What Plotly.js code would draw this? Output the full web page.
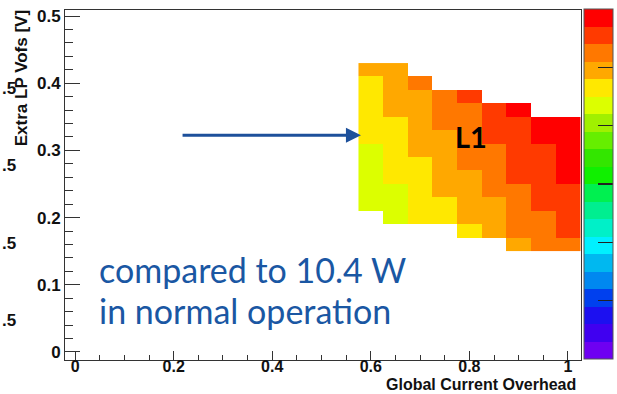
<!DOCTYPE html>
<html>
<head>
<meta charset="utf-8">
<script src="https://cdn.plot.ly/plotly-3.0.1.min.js"></script>
<style>
  html, body { margin: 0; padding: 0; background: #ffffff; }
  #chart { width: 617px; height: 394px; }
</style>
</head>
<body>
<div id="chart"></div>
<script>
// Bin centres of the 2D scan
const overhead = [0.60, 0.65, 0.70, 0.75, 0.80, 0.85, 0.90, 0.95, 1.00];
const vofs = [0.16, 0.18, 0.20, 0.22, 0.24, 0.26, 0.28, 0.30, 0.32, 0.34, 0.36, 0.38, 0.40, 0.42];

// Palette level of each bin (null = empty bin), one row per Vofs value
const row016 = [null, null, null, null, null, null, 16, 17, 17];
const row018 = [null, null, null, null, 15, 16, 17, 17, 18];
const row020 = [null, 14, 15, 15, 16, 16, 17, 17, 18];
const row022 = [14, 14, 15, 15, 16, 16, 17, 18, 18];
const row024 = [14, 14, 15, 16, 16, 17, 17, 18, 18];
const row026 = [14, 15, 15, 16, 16, 17, 18, 18, 19];
const row028 = [14, 15, 15, 16, 17, 17, 18, 18, 19];
const row030 = [14, 15, 16, 16, 17, 17, 18, 18, 19];
const row032 = [15, 15, 16, 16, 17, 18, 18, 19, 19];
const row034 = [15, 15, 16, 17, 17, 18, 18, 19, 19];
const row036 = [15, 16, 16, 17, 17, 18, 19, null, null];
const row038 = [15, 16, 16, 17, 18, null, null, null, null];
const row040 = [15, 16, 17, null, null, null, null, null, null];
const row042 = [16, 16, null, null, null, null, null, null, null];

// 20-step rainbow palette, violet (lowest) to red (highest)
const paletteColors = [
  '#6e00f2', '#4000f0', '#1c10f0', '#0040ee', '#0088f0',
  '#00b8f0', '#00f0ff', '#00f0c8', '#00ee90', '#00f050',
  '#10f000', '#33e600', '#66ee00', '#a0f000', '#dcff00',
  '#ffe800', '#ffa800', '#ff7800', '#ff3a00', '#ff0000'
];

const zRows = [row016, row018, row020, row022, row024, row026, row028,
               row030, row032, row034, row036, row038, row040, row042];

// Stepwise colour scale so every level gets one flat band
const nLevels = paletteColors.length;
const colorscale = [];
paletteColors.forEach((c, i) => {
  colorscale.push([i / nLevels, c]);
  colorscale.push([(i + 1) / nLevels, c]);
});
const zMin = -0.5, zMax = nLevels - 0.5;
const cbTicks = [];
for (let k = 0; k <= 6; k++) cbTicks.push(zMin + (zMax - zMin) * k / 6);

const heat = {
  type: 'heatmap',
  x: overhead,
  y: vofs,
  z: zRows,
  zmin: zMin,
  zmax: zMax,
  zsmooth: false,
  colorscale: colorscale,
  hoverongaps: false,
  colorbar: {
    thickness: 29,
    thicknessmode: 'pixels',
    len: 1,
    lenmode: 'fraction',
    x: 1.0058,
    xanchor: 'left',
    y: 0.503,
    yanchor: 'middle',
    xpad: 0,
    ypad: 0,
    outlinewidth: 1,
    outlinecolor: '#555',
    tickmode: 'array',
    tickvals: cbTicks,
    ticks: 'inside',
    ticklen: 15,
    tickwidth: 1.5,
    tickcolor: '#222',
    showticklabels: false
  }
};

const tickFont = { family: 'Liberation Sans, Arial, sans-serif', size: 17, color: '#111', weight: 'bold' };
const xTickFont = Object.assign({}, tickFont, { size: 16 });
const titleFont = { family: 'Liberation Sans, Arial, sans-serif', size: 17, color: '#111', weight: 'bold' };
const noteFont = { family: 'Lato, Open Sans, sans-serif', size: 34, color: '#1a57a3' };

const layout = {
  width: 617,
  height: 394,
  margin: { l: 65, r: 36, t: 10, b: 34, autoexpand: false },
  paper_bgcolor: '#ffffff',
  plot_bgcolor: '#ffffff',
  showlegend: false,
  xaxis: {
    range: [-0.0205, 1.0265],
    tickmode: 'linear',
    tick0: 0,
    dtick: 0.2,
    ticks: 'inside',
    ticklen: 9,
    tickwidth: 1,
    tickcolor: '#333',
    minor: { dtick: 0.05, ticks: 'inside', ticklen: 5, tickcolor: '#333' },
    showline: true,
    linecolor: '#333',
    linewidth: 1,
    mirror: true,
    showgrid: false,
    zeroline: false,
    tickfont: xTickFont,
    ticklabelstandoff: -8
  },
  yaxis: {
    range: [-0.012, 0.509],
    tickmode: 'linear',
    tick0: 0,
    dtick: 0.1,
    ticks: 'inside',
    ticklen: 15,
    tickwidth: 1,
    tickcolor: '#333',
    minor: { dtick: 0.02, ticks: 'inside', ticklen: 8, tickcolor: '#333' },
    showline: true,
    linecolor: '#333',
    linewidth: 1,
    mirror: true,
    showgrid: false,
    zeroline: false,
    tickfont: tickFont,
    ticklabelstandoff: 0
  },
  annotations: [
    // axis titles, aligned to the axis ends
    {
      xref: 'paper', yref: 'paper', x: -0.0853, y: 1.005,
      xanchor: 'center', yanchor: 'top', textangle: -90,
      text: 'Extra LP Vofs [V]', showarrow: false, font: titleFont
    },
    {
      xref: 'paper', yref: 'paper', x: 0.994, y: (360 - 384) / 350,
      xanchor: 'right', yanchor: 'middle',
      text: 'Global Current Overhead', showarrow: false,
      font: Object.assign({}, titleFont, { size: 16 })
    },
    // blue arrow pointing at the scan
    {
      xref: 'x', yref: 'y', axref: 'x', ayref: 'y',
      x: 0.58, y: 0.3227, ax: 0.215, ay: 0.3227,
      text: '', showarrow: true, arrowhead: 2, arrowsize: 1,
      arrowwidth: 3, arrowcolor: '#1d509b', standoff: 0, startstandoff: 0
    },
    {
      xref: 'paper', yref: 'paper', x: 0.787, y: 0.64,
      xanchor: 'center', yanchor: 'middle',
      text: 'L1', showarrow: false,
      font: { family: 'Lato, Open Sans, sans-serif', size: 29, color: '#000', weight: 'bold' }
    },
    {
      xref: 'paper', yref: 'paper', x: 0.062, y: (360 - 269) / 350,
      xanchor: 'left', yanchor: 'middle', align: 'left',
      text: 'compared to 10.4 W', showarrow: false, font: noteFont
    },
    {
      xref: 'paper', yref: 'paper', x: 0.062, y: (360 - 310) / 350,
      xanchor: 'left', yanchor: 'middle', align: 'left',
      text: 'in normal operation', showarrow: false, font: noteFont
    },
    // clipped labels along the left edge
    { xref: 'paper', yref: 'paper', x: -0.126, y: (360 - 88) / 350, xanchor: 'left', yanchor: 'middle', text: '.5', showarrow: false, font: tickFont },
    { xref: 'paper', yref: 'paper', x: -0.126, y: (360 - 165) / 350, xanchor: 'left', yanchor: 'middle', text: '.5', showarrow: false, font: tickFont },
    { xref: 'paper', yref: 'paper', x: -0.126, y: (360 - 243) / 350, xanchor: 'left', yanchor: 'middle', text: '.5', showarrow: false, font: tickFont },
    { xref: 'paper', yref: 'paper', x: -0.126, y: (360 - 320) / 350, xanchor: 'left', yanchor: 'middle', text: '.5', showarrow: false, font: tickFont }
  ]
};

Plotly.newPlot('chart', [heat], layout, { staticPlot: true, displayModeBar: false });
</script>
</body>
</html>
